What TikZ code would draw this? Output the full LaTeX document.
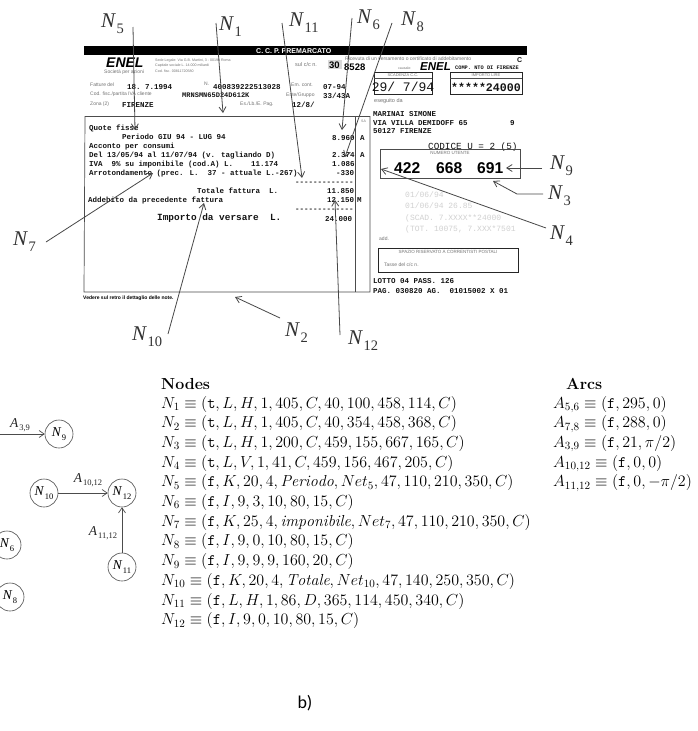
\documentclass[tikz,border=0pt]{standalone}
\usepackage{fontspec}
\usepackage{amsmath}
\usetikzlibrary{arrows.meta}
\newfontfamily\tms{Liberation Serif}
\newfontfamily\mon{Liberation Mono}
\newfontfamily\hel{Liberation Sans}
\newfontfamily\cali{Carlito}
\newcommand{\fz}[1]{\fontsize{#1}{#1}\selectfont}
\newcommand{\BigL}[2]{{\fz{21}\tms\itshape #1}\kern1.5pt\raisebox{-6pt}{\fz{14.5}\tms #2}}
\newcommand{\SmL}[2]{{\fz{13.5}\tms\itshape #1}\kern1pt\raisebox{-3.5pt}{\fz{8.5}\tms #2}}
\definecolor{ink}{gray}{0.08}
\definecolor{faint}{gray}{0.45}
\definecolor{ghost}{gray}{0.82}
\tikzset{
  x=1pt,y=-1pt,
  ann/.style={draw=black!72,line width=0.8pt,-{Straight Barb[length=5.5pt,width=7pt]}},
  biglab/.style={anchor=base west,inner sep=0pt,text=black!80},
  mono/.style={anchor=base west,inner sep=0pt,font=\mon\bfseries\fz{7.5},text=ink},
  tiny/.style={anchor=base west,inner sep=0pt,font=\hel\fz{5},text=faint},
  ghosty/.style={anchor=base west,inner sep=0pt,font=\mon\fz{8},text=ghost},
  rule/.style={draw=black!70,line width=0.7pt},
  frame/.style={draw=black!85,line width=1pt},
  gnode/.style={circle,draw=black!70,line width=0.6pt,minimum size=28pt,inner sep=0pt},
  garc/.style={draw=black!70,line width=0.7pt,-{Straight Barb[length=5pt,width=7pt]}},
  gtxt/.style={inner sep=0pt,text=black!85},
  tbl/.style={anchor=base west,inner sep=0pt,font=\fz{14.4},scale=1.11},
}
\begin{document}
\begin{tikzpicture}
\clip (0,0) rectangle (698,731);
\fill[white] (0,0) rectangle (698,731);

% ---- invoice
\fill[black] (84,46) rectangle (527,55);
\node[anchor=base west,inner sep=0pt,text=white,font=\hel\bfseries\fz{7}] (bartext) at (256,53) {C. C. P. PREMARCATO};
\node[anchor=base west,inner sep=0pt,font=\hel\bfseries\itshape\fz{14}] (logoa) at (106,67) {ENEL};
\node[tiny] (soc) at (104,73.5) {Società per azioni};
\node[tiny,font=\hel\fz{3.6}] (fp1) at (155,61) {Sede Legale: Via G.B. Martini, 3 - 00198 Roma};
\node[tiny,font=\hel\fz{3.6}] (fp2) at (155,66) {Capitale sociale L. 14.000 miliardi};
\node[tiny,font=\hel\fz{3.6}] (fp3) at (155,72) {Cod. fisc. 00811720580};
\node[tiny,font=\hel\fz{5.5}] (suc) at (295,66) {sul c/c n.};
\fill[black!15] (328,60) rectangle (342,69);
\node[anchor=base west,inner sep=0pt,font=\hel\bfseries\fz{9.5}] (n30) at (329,68.5) {30};
\node[anchor=base west,inner sep=0pt,font=\hel\bfseries\fz{9.5}] (n8528) at (344,70) {8528};

\node[tiny] (f1) at (90,86) {Fatture del};
\node[mono] (f2) at (127,89) {18.~7.1994};
\node[tiny] (f3) at (204,85) {N.};
\node[mono] (f4) at (213,89) {400839222513028};
\node[tiny] (f5) at (291,86) {Em. cont.};
\node[mono] (f6) at (323,89) {07-94};
\node[tiny] (g1) at (90,95) {Cod. fisc./partita IVA cliente};
\node[mono,font=\mon\bfseries\fz{7}] (g2) at (182,97) {MRNSMN65D24D612K};
\node[tiny] (g3) at (286,96) {Ente/Gruppo};
\node[mono] (g4) at (323,98) {33/43A};
\node[tiny] (h1) at (90,105) {Zona (2)};
\node[mono] (h2) at (122,107) {FIRENZE};
\node[tiny] (h3) at (240,105) {Es./Lb./E. Pag.};
\node[mono] (h4) at (292,107) {12/8/};

% main frame
\draw[rule] (85,116) -- (370,116);
\draw[rule] (85,116) -- (84,292) -- (370,292) -- (370,116);
\draw[rule] (355,116) -- (355,292);
\node[tiny,font=\hel\fz{3.5}] (sa) at (361,122) {SA};

\node[mono] (q1) at (89,130) {Quote fisse};
\node[mono] (q2) at (122,139.5) {Periodo GIU 94 - LUG 94};
\node[mono] (q3) at (89,148) {Acconto per consumi};
\node[mono] (q4) at (89,157) {Del 13/05/94 al 11/07/94 (v. tagliando D)};
\node[mono] (q5) at (89,166) {IVA~~9\% su imponibile (cod.A) L.~~~~11.174};
\node[mono] (q6) at (89,175) {Arrotondamento (prec. L.~~37 - attuale L.-267)};
\node[mono] (v1) at (332,140) {8.960};
\node[mono] (v1a) at (360,140) {A};
\node[mono] (v2) at (332,157) {2.374};
\node[mono] (v2a) at (360,157) {A};
\node[mono] (v3) at (332,166) {1.086};
\node[mono] (v4) at (336,175) {-330};
\node[mono] (d1) at (295,184) {-------------};
\node[mono] (t1a) at (197,193) {Totale fattura~~L.};
\node[mono] (t1b) at (327,193) {11.850};
\node[mono] (t2a) at (88,202) {Addebito da precedente fattura};
\node[mono] (t2b) at (327,202) {12.150};
\node[mono] (t2c) at (357,202) {M};
\node[mono] (d2) at (295,211) {-------------};
\node[mono,font=\mon\bfseries\fz{9.4}] (t3a) at (157,220) {Importo da versare~~L.};
\node[mono] (t3b) at (325,221) {24.000};
\node[anchor=base west,inner sep=0pt,font=\hel\bfseries\fz{5}] (ved) at (83,299) {Vedere sul retro il dettaglio delle note.};

% right receipt
\node[tiny,font=\hel\fz{5}] (ric) at (345,60) {Ricevuta di un versamento o certificato di addebitamento};
\node[mono,font=\hel\bfseries\fz{7}] (cc) at (517,62) {C};
\node[tiny,font=\hel\fz{3.5}] (cau) at (398,69) {causale:};
\node[anchor=base west,inner sep=0pt,font=\hel\bfseries\itshape\fz{11.5}] (logob) at (420,70) {ENEL};
\node[mono,font=\mon\bfseries\fz{5.3}] (comp) at (455,69) {COMP. NTO DI FIRENZE};
\draw[frame] (374,72) rectangle (432,94);
\draw[frame] (450,72) rectangle (522,94);
\draw[rule,line width=.4pt] (374,78) -- (432,78);
\draw[rule,line width=.4pt] (450,78) -- (522,78);
\node[inner sep=0pt,font=\hel\fz{4},text=faint] (sc) at (403,75) {SCADENZA C.C.};
\node[inner sep=0pt,font=\hel\fz{4},text=faint] (im) at (486,75) {IMPORTO LIRE};
\node[inner sep=0pt,font=\mon\fz{13},text=ink] (sd) at (403,87) {29/ 7/94};
\node[inner sep=0pt,font=\mon\bfseries\fz{11.6},text=ink] (am) at (486,87) {*****24000};
\node[tiny,font=\hel\fz{5.5}] (es) at (374,102) {eseguito da};
\node[mono] (m1) at (373,116) {MARINAI SIMONE};
\node[mono] (m2) at (373,125) {VIA VILLA DEMIDOFF 65};
\node[mono] (m2b) at (510,125) {9};
\node[mono] (m3) at (373,133.5) {50127 FIRENZE};
\node[mono,font=\mon\fz{9.3}] (cod) at (428,149) {CODICE U = 2 (5)};
\draw[rule] (380,149) rectangle (520,178);
\node[inner sep=0pt,font=\hel\fz{4.5},text=faint] (nu) at (450,152.5) {NUMERO UTENTE};
\node[anchor=base west,inner sep=0pt,font=\hel\bfseries\fz{15.6}] (a422) at (394,173) {422};
\node[anchor=base west,inner sep=0pt,font=\hel\bfseries\fz{15.6}] (a668) at (436,173) {668};
\node[anchor=base west,inner sep=0pt,font=\hel\bfseries\fz{15.6}] (a691) at (477,173) {691};
\node[ghosty] (gh1) at (405,197) {01/06/94};
\node[ghosty] (gh2) at (405,208) {01/06/94 26.85};
\node[ghosty] (gh3) at (405,220) {(SCAD. 7.XXXX**24000};
\node[ghosty] (gh4) at (405,231) {(TOT. 10075, 7.XXX*7501};
\node[tiny] (ad) at (379,240) {add.};
\draw[frame] (378,248) rectangle (518,272);
\node[inner sep=0pt,font=\hel\fz{4.5},text=faint] (sp) at (448,252) {SPAZIO RISERVATO A CORRENTISTI POSTALI};
\node[tiny] (ta) at (384,266.5) {Tasse del c/c n.};
\node[mono] (l1) at (373,283.5) {LOTTO 04 PASS. 126};
\node[mono] (l2) at (373,293) {PAG. 030820 AG.~~01015002 X 01};

% ---- annotation arrows
\coordinate (a5s) at (133,27);   \coordinate (a5e) at (135,130);
\coordinate (a1s) at (216,23);   \coordinate (a1e) at (223,113);
\coordinate (a11s) at (282,23);  \coordinate (a11e) at (302,178);
\coordinate (a6s) at (352,18);   \coordinate (a6e) at (342,130);
\coordinate (a8s) at (392,23);   \coordinate (a8e) at (345,157);
\coordinate (a9s) at (542,168);  \coordinate (a9e) at (506,168);
\coordinate (a3s) at (543,194);  \coordinate (a3m) at (517,194);  \coordinate (a3e) at (493,181);
\coordinate (a4s) at (546,228);  \coordinate (a4e) at (381,169);
\coordinate (a7s) at (46,242);   \coordinate (a7e) at (153,173);
\coordinate (a10s) at (168,334); \coordinate (a10e) at (204,203);
\coordinate (a2s) at (280,318);  \coordinate (a2e) at (235,297);
\coordinate (a12s) at (340,335); \coordinate (a12e) at (335,200);
\draw[ann] (a5s) -- (a5e);
\draw[ann] (a1s) -- (a1e);
\draw[ann] (a11s) -- (a11e);
\draw[ann] (a6s) -- (a6e);
\draw[ann] (a8s) -- (a8e);
\draw[ann] (a9s) -- (a9e);
\draw[ann] (a3s) -- (a3m) -- (a3e);
\draw[ann] (a4s) -- (a4e);
\draw[ann] (a7s) -- (a7e);
\draw[ann] (a10s) -- (a10e);
\draw[ann] (a2s) -- (a2e);
\draw[ann] (a12s) -- (a12e);

\node[biglab] (l5) at (101,27) {\BigL{N}{5}};
\node[biglab] (l1b) at (219,30) {\BigL{N}{1}};
\node[biglab] (l11) at (289,26) {\BigL{N}{11}};
\node[biglab] (l6) at (357,23) {\BigL{N}{6}};
\node[biglab] (l8) at (401,25) {\BigL{N}{8}};
\node[biglab] (l9) at (550,169) {\BigL{N}{9}};
\node[biglab] (l3) at (548,199) {\BigL{N}{3}};
\node[biglab] (l4) at (550,239) {\BigL{N}{4}};
\node[biglab] (l7) at (13,245) {\BigL{N}{7}};
\node[biglab] (l10) at (132,340) {\BigL{N}{10}};
\node[biglab] (l2b) at (285,336) {\BigL{N}{2}};
\node[biglab] (l12) at (348,344) {\BigL{N}{12}};

% ---- graph
\node[gnode] (N9) at (59,434) {\SmL{N}{9}};
\node[gnode] (N10) at (44,493) {\SmL{N}{10}};
\node[gnode] (N12) at (122,493) {\SmL{N}{12}};
\node[gnode] (N11) at (122,567) {\SmL{N}{11}};
\node[gnode] (N6) at (7,545) {\SmL{N}{6}};
\node[gnode] (N8) at (10,597) {\SmL{N}{8}};
\coordinate (A39s) at (0,434);
\draw[garc] (A39s) -- (N9);
\draw[garc] (N10) -- (N12);
\draw[garc] (N11) -- (N12);
\node[gtxt] (la39) at (20,425) {\SmL{A}{3,9}};
\node[gtxt] (la1012) at (88,480) {\SmL{A}{10,12}};
\node[gtxt] (la1112) at (103,533) {\SmL{A}{11,12}};

% ---- tables
\node[tbl,font=\bfseries\fz{14.4}] (th) at (161,389) {Nodes};
\node[tbl] (r1) at (161,408) {$N_1\equiv(\mathtt{t},L,H,1,405,C,40,100,458,114,C)$};
\node[tbl] (r2) at (161,427.7) {$N_2\equiv(\mathtt{t},L,H,1,405,C,40,354,458,368,C)$};
\node[tbl] (r3) at (161,447.4) {$N_3\equiv(\mathtt{t},L,H,1,200,C,459,155,667,165,C)$};
\node[tbl] (r4) at (161,467.1) {$N_4\equiv(\mathtt{t},L,V,1,41,C,459,156,467,205,C)$};
\node[tbl] (r5) at (161,486.8) {$N_5\equiv(\mathtt{f},K,20,4,\mathit{Periodo},Net_5,47,110,210,350,C)$};
\node[tbl] (r6) at (161,506.5) {$N_6\equiv(\mathtt{f},I,9,3,10,80,15,C)$};
\node[tbl] (r7) at (161,526.2) {$N_7\equiv(\mathtt{f},K,25,4,\mathit{imponibile},Net_7,47,110,210,350,C)$};
\node[tbl] (r8) at (161,545.9) {$N_8\equiv(\mathtt{f},I,9,0,10,80,15,C)$};
\node[tbl] (r9) at (161,565.6) {$N_9\equiv(\mathtt{f},I,9,9,9,160,20,C)$};
\node[tbl] (r10) at (161,585.3) {$N_{10}\equiv(\mathtt{f},K,20,4,\mathit{Totale},Net_{10},47,140,250,350,C)$};
\node[tbl] (r11) at (161,605) {$N_{11}\equiv(\mathtt{f},L,H,1,86,D,365,114,450,340,C)$};
\node[tbl] (r12) at (161,624.7) {$N_{12}\equiv(\mathtt{f},I,9,0,10,80,15,C)$};

\node[tbl,font=\bfseries\fz{14.4}] (ah) at (566,389) {Arcs};
\node[tbl] (s1) at (553,408) {$A_{5,6}\equiv(\mathtt{f},295,0)$};
\node[tbl] (s2) at (553,427.7) {$A_{7,8}\equiv(\mathtt{f},288,0)$};
\node[tbl] (s3) at (553,447.4) {$A_{3,9}\equiv(\mathtt{f},21,\pi/2)$};
\node[tbl] (s4) at (553,467.1) {$A_{10,12}\equiv(\mathtt{f},0,0)$};
\node[tbl] (s5) at (553,486.8) {$A_{11,12}\equiv(\mathtt{f},0,-\pi/2)$};

\node[inner sep=0pt,font=\cali\fz{18}] (cap) at (305,703) {b)};
\end{tikzpicture}
\end{document}
